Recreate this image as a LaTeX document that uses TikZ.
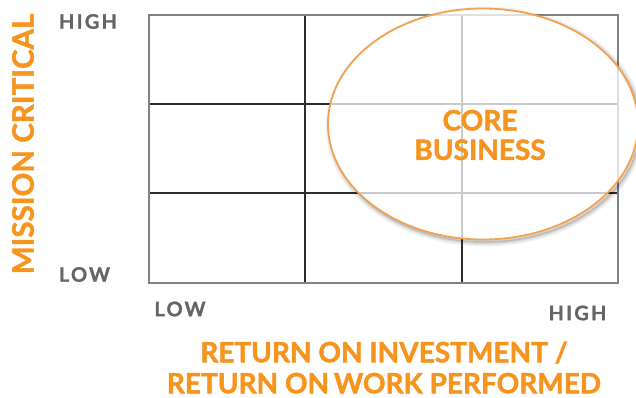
\documentclass[tikz,border=0pt]{standalone}
\usepackage{fontspec}
\setmainfont{Lato}
\newfontfamily\titlefont{Lato}[BoldFeatures={FakeBold=1.6}]
\newfontfamily\tickfont{Lato}[BoldFeatures={FakeBold=1.2, LetterSpace=11}]
\usetikzlibrary{shapes.geometric}
\definecolor{accent}{RGB}{247,148,29}
\definecolor{ringcol}{RGB}{242,162,82}
\definecolor{labelgray}{RGB}{100,101,105}
\definecolor{gridline}{RGB}{45,45,45}
\definecolor{framegray}{RGB}{130,130,130}
\tikzset{
  axistitle/.style={text=accent, font=\fontsize{28}{31}\titlefont\bfseries, inner sep=0pt, align=center},
  ticklabel/.style={text=labelgray, font=\fontsize{20}{22}\tickfont\bfseries, inner sep=0pt},
  corelabel/.style={text=accent, font=\fontsize{28}{29.5}\titlefont\bfseries, align=center, inner sep=0pt},
  ringshape/.style={ellipse, minimum width=310pt, minimum height=231pt, inner sep=0pt},
}
\begin{document}
\begin{tikzpicture}[x=1pt,y=-1pt]
\useasboundingbox (0,0) rectangle (636,397);
% inner grid lines
\draw[gridline, line width=1.2pt] (305,15) -- (305,283) (462,15) -- (462,283)
  (149,104) -- (618,104) (149,193) -- (618,193);
% outer frame
\draw[framegray, line width=1.4pt] (149,15) rectangle (618,283);
% soft shadow, kept outside the ring
\begin{scope}[even odd rule]
  \clip (0,0) rectangle (636,397) (483,124) ellipse [x radius=155pt, y radius=115.5pt];
  \foreach \w/\o in {9/0.05, 6/0.06, 3.5/0.08, 1.5/0.10}
    \draw[black, opacity=\o, line width=\w pt] (485,126.5) ellipse [x radius=155pt, y radius=115.5pt];
\end{scope}
% translucent ring over the upper-right cells
\node[ringshape, draw=ringcol, line width=1.8pt, fill=white, fill opacity=0.75] (ring) at (483,124) {};
\node[corelabel] (core) at (480,135) {CORE\\BUSINESS};
% axis labels
\node[axistitle, rotate=90, font=\fontsize{29.5}{31}\titlefont\bfseries] (ytitle) at (23,144) {MISSION CRITICAL};
\node[ticklabel] (yhigh) at (88,21.5) {HIGH};
\node[ticklabel] (ylow) at (84.5,274.5) {LOW};
\node[ticklabel] (xlow) at (180,309) {LOW};
\node[ticklabel] (xhigh) at (577.5,313) {HIGH};
\node[axistitle] (xtitle) at (384,367.5) {RETURN ON INVESTMENT /\\RETURN ON\,WORK PERFORMED};
\end{tikzpicture}
\end{document}
